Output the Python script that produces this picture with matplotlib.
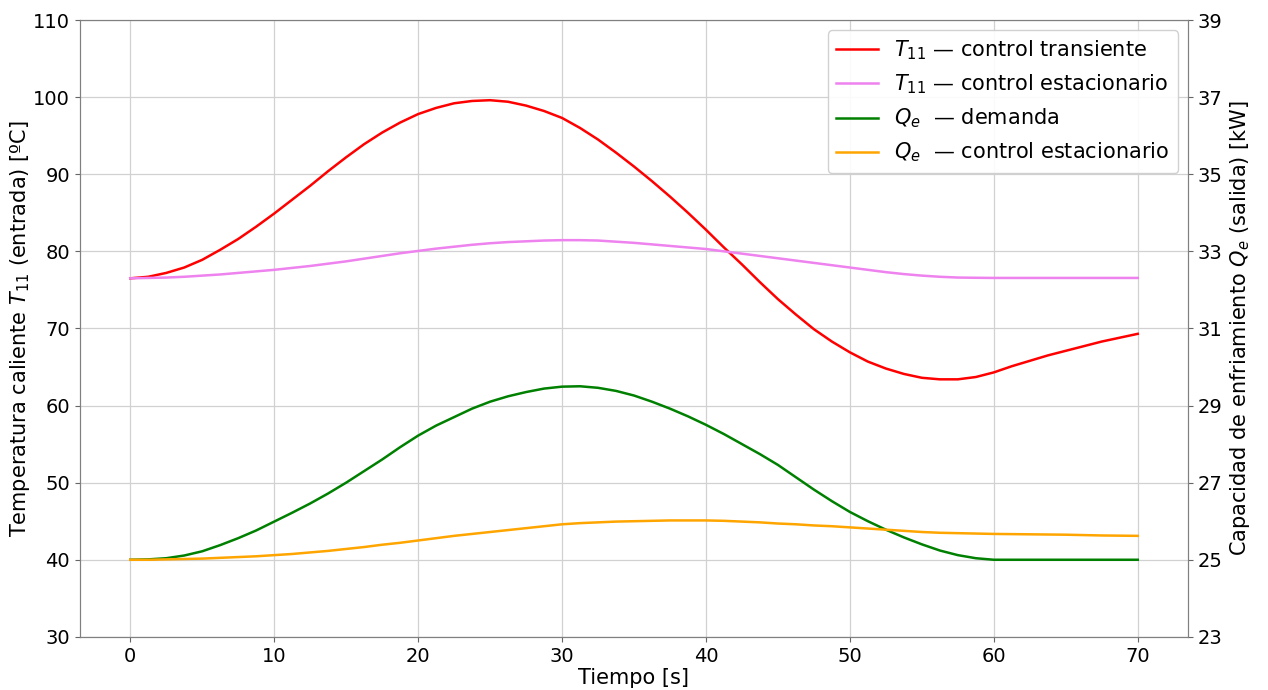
import numpy as np
import matplotlib
matplotlib.use("Agg")
import matplotlib.pyplot as plt

# time axis [s], read every 1.25 s
t = np.linspace(0, 70, 57)

# T11 [C]
t11_transiente = [76.5, 76.7, 77.2, 77.9, 78.9, 80.2, 81.6, 83.2, 84.9, 86.7,
                  88.5, 90.4, 92.2, 93.9, 95.4, 96.7, 97.8, 98.6, 99.2, 99.5,
                  99.6, 99.4, 98.9, 98.2, 97.3, 96.0, 94.5, 92.8, 91.0, 89.1,
                  87.1, 85.0, 82.8, 80.5, 78.3, 76.0, 73.8, 71.8, 69.9, 68.3,
                  66.9, 65.7, 64.8, 64.1, 63.6, 63.4, 63.4, 63.7, 64.3, 65.1,
                  65.8, 66.5, 67.1, 67.7, 68.3, 68.8, 69.3]
t11_estacionario = [76.5, 76.55, 76.6, 76.7, 76.85, 77.0, 77.2, 77.4, 77.6, 77.85,
                    78.1, 78.4, 78.7, 79.05, 79.4, 79.75, 80.05, 80.35, 80.6, 80.85,
                    81.05, 81.2, 81.3, 81.4, 81.45, 81.45, 81.4, 81.25, 81.1, 80.9,
                    80.7, 80.5, 80.3, 80.0, 79.7, 79.4, 79.1, 78.8, 78.5, 78.2,
                    77.9, 77.6, 77.3, 77.05, 76.85, 76.7, 76.6, 76.57, 76.55, 76.55,
                    76.55, 76.55, 76.55, 76.55, 76.55, 76.55, 76.55]

# Qe [kW]
qe_demanda = [25.0, 25.01, 25.04, 25.11, 25.22, 25.38, 25.56, 25.76, 25.99, 26.22,
              26.46, 26.72, 27.0, 27.3, 27.6, 27.92, 28.22, 28.48, 28.7, 28.92,
              29.1, 29.24, 29.35, 29.44, 29.49, 29.5, 29.46, 29.38, 29.26, 29.1,
              28.92, 28.72, 28.5, 28.26, 28.0, 27.74, 27.46, 27.14, 26.82, 26.52,
              26.24, 26.0, 25.78, 25.58, 25.4, 25.24, 25.12, 25.04, 25.0, 25.0,
              25.0, 25.0, 25.0, 25.0, 25.0, 25.0, 25.0]
qe_estacionario = [25.0, 25.0, 25.01, 25.02, 25.03, 25.05, 25.07, 25.09, 25.12, 25.15,
                   25.19, 25.23, 25.28, 25.33, 25.39, 25.44, 25.5, 25.56, 25.62, 25.67,
                   25.72, 25.77, 25.82, 25.87, 25.92, 25.95, 25.97, 25.99, 26.0, 26.01,
                   26.02, 26.02, 26.02, 26.01, 25.99, 25.97, 25.94, 25.92, 25.89, 25.87,
                   25.84, 25.81, 25.78, 25.75, 25.72, 25.7, 25.69, 25.68, 25.67, 25.665,
                   25.66, 25.655, 25.65, 25.64, 25.63, 25.625, 25.62]

fs = 15

fig, ax = plt.subplots(figsize=(12.68, 6.9), dpi=100)
fig.subplots_adjust(left=0.063, right=0.937, top=0.971, bottom=0.077)
ax2 = ax.twinx()

l1, = ax.plot(t, t11_transiente, color='red', lw=1.8, label=r'$T_{11}$ — control transiente')
l2, = ax.plot(t, t11_estacionario, color='violet', lw=1.8, label=r'$T_{11}$ — control estacionario')
l3, = ax2.plot(t, qe_demanda, color='green', lw=1.8, label=r'$Q_e$  — demanda')
l4, = ax2.plot(t, qe_estacionario, color='orange', lw=1.8, label=r'$Q_e$  — control estacionario')

ax.set_ylim(30, 110)
ax.set_yticks(np.arange(30, 111, 10))
ax2.set_ylim(23, 39)
ax2.set_yticks(np.arange(23, 40, 2))
ax.set_xticks(np.arange(0, 71, 10))

ax.set_xlabel('Tiempo [s]', fontsize=fs, labelpad=2)
ax.set_ylabel(r'Temperatura caliente $T_{11}$ (entrada) [ºC]', fontsize=fs, labelpad=1)
ax2.set_ylabel(r'Capacidad de enfriamiento $Q_e$ (salida) [kW]', fontsize=fs)
ax.tick_params(labelsize=14, colors='0.4', labelcolor='black')
ax2.tick_params(labelsize=14, colors='0.4', labelcolor='black')
for a in (ax, ax2):
    for s in a.spines.values():
        s.set_color('0.5')

ax.grid(True, color='0.82', lw=0.9)

ax.legend(handles=[l1, l2, l3, l4], loc='upper right', fontsize=fs, framealpha=0.9)

fig.savefig('out.png', dpi=100)
